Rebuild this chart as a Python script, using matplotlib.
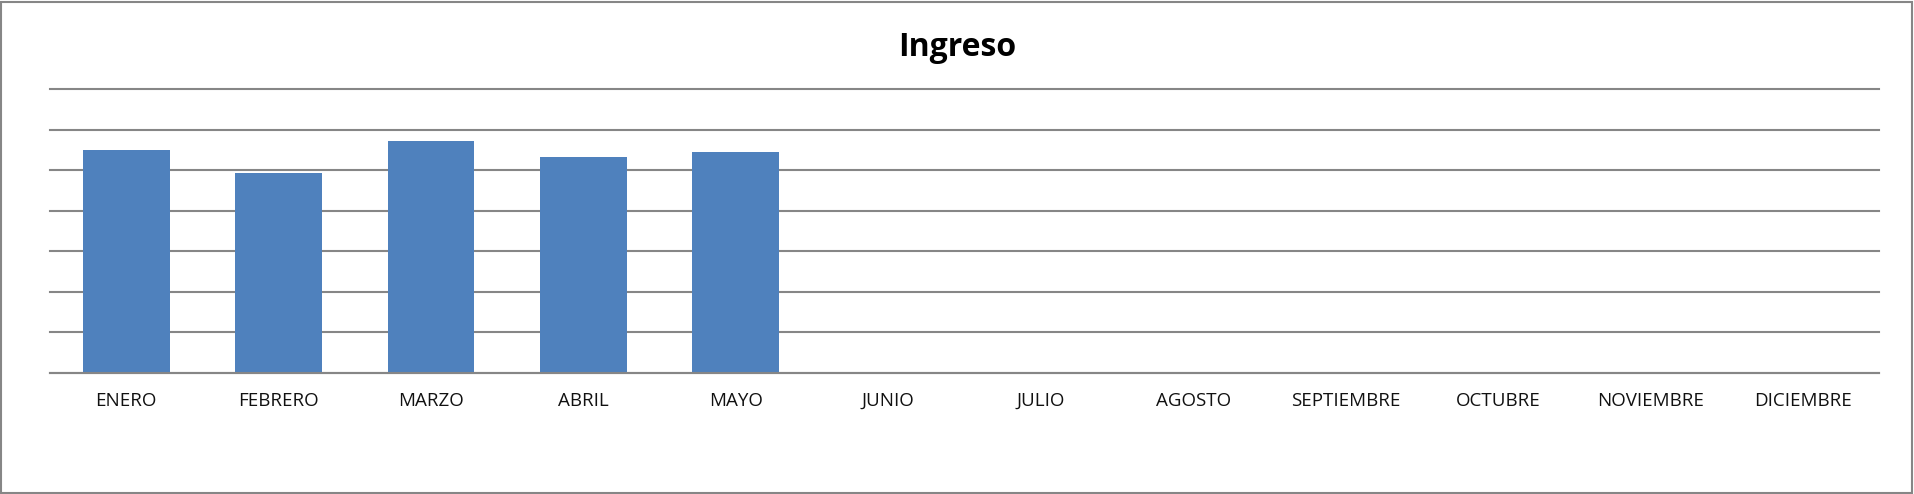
import matplotlib.pyplot as plt
import numpy as np
from matplotlib.patches import Rectangle

# Monthly values
meses = ['ENERO', 'FEBRERO', 'MARZO', 'ABRIL', 'MAYO', 'JUNIO', 'JULIO',
         'AGOSTO', 'SEPTIEMBRE', 'OCTUBRE', 'NOVIEMBRE', 'DICIEMBRE']
ingreso = [5.50, 4.93, 5.72, 5.33, 5.45, 0, 0, 0, 0, 0, 0, 0]
y_ticks = [0, 1, 2, 3, 4, 5, 6, 7]

W, H = 1914, 494
fig = plt.figure(figsize=(W / 100, H / 100), dpi=100)
ax = fig.add_axes([50 / W, 1 - 372.5 / H, (1879 - 50) / W, (372.5 - 89) / H])

x = np.arange(len(meses))
ax.bar(x, ingreso, width=0.57, color='#4F81BD', zorder=3)

ax.set_xlim(-0.5, len(meses) - 0.5)
ax.set_ylim(y_ticks[0], y_ticks[-1])
ax.set_yticks(y_ticks)
ax.yaxis.grid(True, color='#868686', linewidth=1.5, zorder=0)
for gl in ax.yaxis.get_gridlines():
    gl.set_clip_on(False)
ax.tick_params(axis='y', left=False, labelleft=False)
ax.tick_params(axis='x', length=0, pad=14)
ax.set_xticks(x)
ax.set_xticklabels(meses, fontsize=13.5, family=['Open Sans', 'DejaVu Sans'], color='#111111')
for s in ['left', 'right', 'top']:
    ax.spines[s].set_visible(False)
ax.spines['bottom'].set_color('#868686')
ax.spines['bottom'].set_linewidth(1.5)
ax.spines['bottom'].set_zorder(4)

fig.text(957 / W, 1 - 47 / H, 'Ingreso', ha='center', va='center',
         fontsize=23, fontweight='bold', family=['Open Sans', 'DejaVu Sans'])

# outer chart border
fig.patches.append(Rectangle((1 / W, 1 / H), (W - 3) / W, (H - 3) / H,
                             transform=fig.transFigure, fill=False,
                             edgecolor='#868686', linewidth=1.5))

fig.savefig('out.png', dpi=100)
